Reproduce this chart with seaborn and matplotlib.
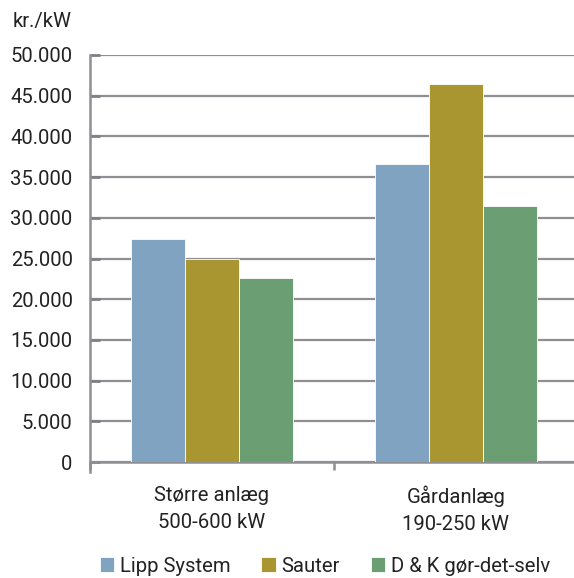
import matplotlib
matplotlib.use("Agg")
import matplotlib.pyplot as plt
import seaborn as sns
import pandas as pd
from matplotlib.ticker import FuncFormatter, FixedLocator

categories = ["Større anlæg\n500-600 kW", "Gårdanlæg\n190-250 kW"]
series = ["Lipp System", "Sauter", "D & K gør-det-selv"]
lipp = [27400, 36550]
sauter = [25000, 46450]
dk = [22650, 31450]
colors = ["#7FA3C1", "#A99630", "#6B9E72"]

rows = []
for s, vals in zip(series, [lipp, sauter, dk]):
    for c, v in zip(categories, vals):
        rows.append({"kategori": c, "serie": s, "værdi": v})
df = pd.DataFrame(rows)

sns.set_theme(style="white")
plt.rcParams["font.family"] = ["Roboto", "DejaVu Sans"]

FS = 14.6
fig = plt.figure(figsize=(5.74, 5.78), dpi=100)
ax = fig.add_axes([90 / 574, 1 - 462 / 578, (578 - 90) / 574, (462 - 55) / 578])

sns.barplot(data=df, x="kategori", y="værdi", hue="serie", palette=colors,
            order=categories, hue_order=series, width=0.665, gap=0, saturation=1,
            edgecolor="white", linewidth=0.6, ax=ax, legend=True, zorder=3)

gridc = "#8E8E93"
ax.set_ylim(0, 50000)
ax.set_xlim(-0.5, 1.5)
ax.yaxis.set_major_locator(FixedLocator(list(range(0, 50001, 5000))))
ax.yaxis.set_major_formatter(FuncFormatter(lambda v, p: f"{int(v):,}".replace(",", ".")))
ax.grid(axis="y", color=gridc, linewidth=1.6, zorder=0)
ax.set_axisbelow(True)
for side in ["top", "right"]:
    ax.spines[side].set_visible(False)
for side in ["left", "bottom"]:
    ax.spines[side].set_color(gridc)
    ax.spines[side].set_linewidth(1.8)
ax.spines["left"].set_bounds(-1200, 50000)
ax.set_ylim(0, 50000)

ax.tick_params(axis="y", which="major", direction="in", length=7, width=2,
               color="#7F7F85", labelsize=FS, labelcolor="#222222", pad=12.5, left=True)
ax.set_xlabel("")
ax.set_ylabel("")
ax.set_xticks([0, 1])
ax.set_xticklabels(categories, fontsize=FS, color="#222222", linespacing=1.55)
ax.tick_params(axis="x", which="major", length=0, pad=17)
ax.set_xticks([-0.5, 0.5, 1.5], minor=True)
ax.tick_params(axis="x", which="minor", direction="out", length=6, width=1.8, color=gridc, bottom=True)

fig.text(72 / 574, 1 - 21 / 578, "kr./kW", ha="right", va="center", fontsize=FS, color="#222222")

handles, labels = ax.get_legend_handles_labels()
ax.get_legend().remove()
fig.legend(handles, labels, loc="center", bbox_to_anchor=(325 / 574, 1 - 566 / 578), ncol=3,
           frameon=False, fontsize=FS, handlelength=0.7, handleheight=0.7,
           handletextpad=0.3, columnspacing=1.5, labelcolor="#222222")

fig.savefig("out.png", dpi=100)
